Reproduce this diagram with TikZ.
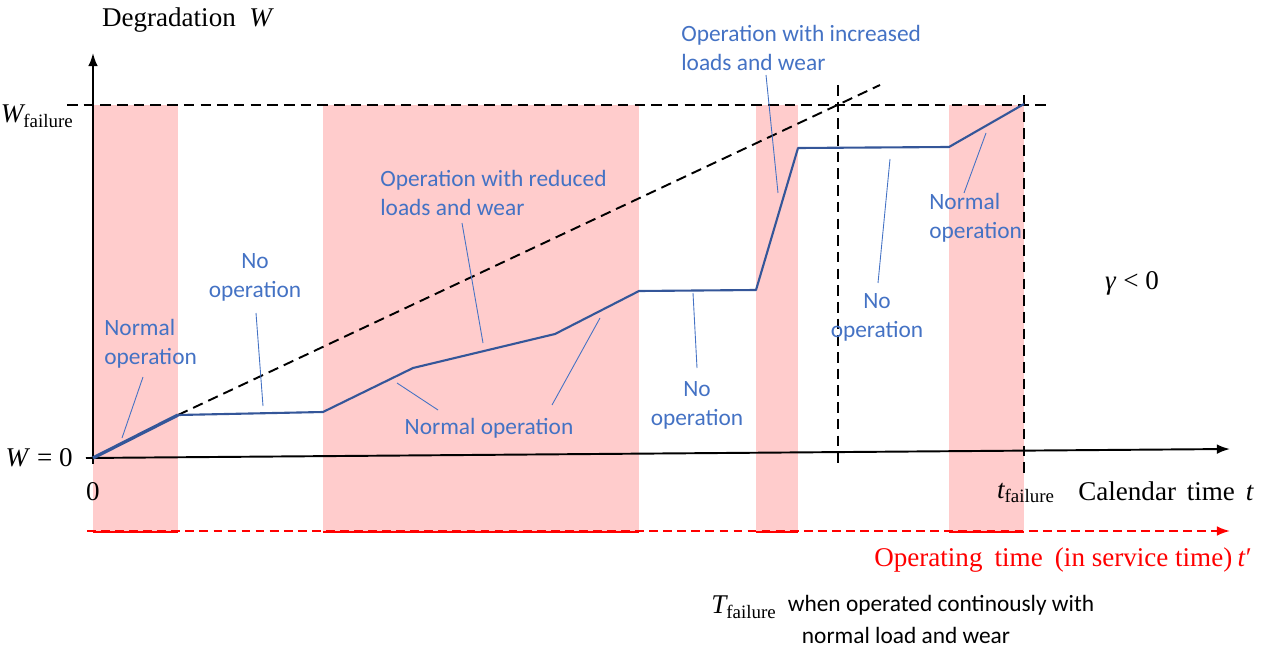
\documentclass[tikz,border=0pt]{standalone}
\usepackage{amsmath}
\usepackage{fontspec}
\setmainfont{Liberation Serif}
\newfontfamily\calibri{Carlito}
\usepackage{tikz}
\usetikzlibrary{arrows.meta,positioning,calc}

\definecolor{bandpink}{RGB}{255,204,204}
\definecolor{lblblue}{RGB}{68,114,196}
\definecolor{curveblue}{RGB}{52,86,153}

\begin{document}
\begin{tikzpicture}[x=0.02cm, y=-0.02cm, >=Latex,
  band/.style={fill=bandpink, draw=none},
  axis/.style={line width=1.1pt, ->, >={Latex[length=7.5pt,width=5.5pt]}},
  guide/.style={line width=1.1pt, dash pattern=on 6pt off 3.5pt},
  wear/.style={curveblue, line width=1.2pt, line join=round},
  lead/.style={lblblue, line width=0.5pt},
  lbl/.style={lblblue, font=\calibri\fontsize{13.3}{16.5}\selectfont, inner sep=0pt, align=center},
  txt/.style={font=\calibri\fontsize{13.3}{16.5}\selectfont, inner sep=0pt},
  serif/.style={font=\fontsize{15.4}{18}\selectfont, inner sep=0pt},
  optime/.style={red, line width=1.7pt}]
  \useasboundingbox (0,0) rectangle (1266,648);

  % operating periods
  \foreach \xa/\xb in {93/178, 323/639, 756/798, 949/1024} {
    \fill[band] (\xa,105) rectangle (\xb,533);
    \draw[optime] (\xa,532) -- (\xb,532);
  }

  % axes
  \coordinate (ybot) at (93,464);
  \coordinate (ytop) at (93,53);
  \coordinate (xl) at (86,458);
  \coordinate (xr) at (1230,449);
  \coordinate (tl) at (87,531);
  \coordinate (tr) at (1230,531);
  \draw[axis] (ybot) -- (ytop);
  \draw[axis] (xl) -- (xr);
  \draw[red, line width=1.1pt, dash pattern=on 5pt off 3pt, ->, >={Latex[length=7.5pt,width=5.5pt]}] (tl) -- (tr);

  % failure level and limits
  \coordinate (wfl) at (67,105);
  \coordinate (wfr) at (1050,105);
  \coordinate (ns) at (178,415);
  \coordinate (ne) at (880,85);
  \coordinate (Tt) at (838,85);
  \coordinate (Tb) at (838,465);
  \coordinate (tt) at (1024,95);
  \coordinate (tb) at (1024,478);
  \draw[guide] (wfl) -- (wfr);
  \draw[guide] (ns) -- (ne);
  \draw[guide] (Tt) -- (Tb);
  \draw[guide] (tt) -- (tb);

  % degradation path
  \coordinate (p0) at (93,458);
  \coordinate (p1) at (178,415);
  \coordinate (p2) at (323,412);
  \coordinate (p3) at (413,368);
  \coordinate (p4) at (555,334);
  \coordinate (p5) at (639,291);
  \coordinate (p6) at (756,290);
  \coordinate (p7) at (798,148);
  \coordinate (p8) at (949,147);
  \coordinate (p9) at (1024,104);
  \draw[wear, line width=1.9pt] (p0) -- (p1);
  \draw[wear] (p1) -- (p2) -- (p3) -- (p4) -- (p5) -- (p6) -- (p7) -- (p8) -- (p9);

  % labels
  \node[lbl, align=left, anchor=west] (nop1) at (104,344) {Normal\\operation};
  \node[lbl] (noop1) at (255,277) {No\\operation};
  \node[lbl, align=left, anchor=west] (red) at (380,193) {Operation with reduced\\loads and wear};
  \node[lbl] (nop2) at (489,428) {Normal operation};
  \node[lbl] (noop2) at (697,405) {No\\operation};
  \node[lbl, align=left, anchor=west] (inc) at (681,48) {Operation with increased\\loads and wear};
  \node[lbl] (noop3) at (877,317) {No\\operation};
  \node[lbl, align=left, anchor=west] (nop3) at (929,218) {Normal\\operation};

  % leader lines
  \coordinate (a1) at (143,377); \coordinate (b1) at (122,438);
  \coordinate (a2) at (256,313); \coordinate (b2) at (263,406);
  \coordinate (a3) at (462,223); \coordinate (b3) at (483,343);
  \coordinate (a4) at (438,410); \coordinate (b4) at (397,383);
  \coordinate (a5) at (552,405); \coordinate (b5) at (600,318);
  \coordinate (a6) at (697,368); \coordinate (b6) at (693,293);
  \coordinate (a7) at (766,75);  \coordinate (b7) at (778,193);
  \coordinate (a8) at (878,283); \coordinate (b8) at (890,159);
  \coordinate (a9) at (964,193); \coordinate (b9) at (986,133);
  \foreach \i in {1,...,9}
    \draw[lead] (a\i) -- (b\i);

  % axis texts
  \node[serif] (ylab) at (188,20) {Degradation\hspace{0.5em}\textit{W}};
  \node[serif, anchor=east] (wfail) at (74,116) {$\textit{W}_{\text{failure}}$};
  \node[serif, anchor=east] (wzero) at (73,458) {\textit{W} = 0};
  \node[serif] (zero) at (93,492) {0};
  \node[serif] (tfail) at (1026,493) {$\textit{t}_{\text{failure}}$};
  \node[serif, anchor=west] (cal) at (1078,491) {Calendar\hspace{0.4em}time\hspace{0.4em}\textit{t}};
  \node[serif, red, anchor=east] (opt) at (1252,560) {Operating\hspace{0.45em}time\hspace{0.45em}(in service time)\hspace{0.2em}\textit{t}′};
  \node[serif] (gam) at (1132,283) {\textit{γ} < 0};
  \node[serif] (Tfail) at (744,607) {$\textit{T}_{\text{failure}}$};
  \node[txt] (cont) at (941,605) {when operated continously with};
  \node[txt] (cont2) at (906,635) {normal load and wear};
\end{tikzpicture}
\end{document}
